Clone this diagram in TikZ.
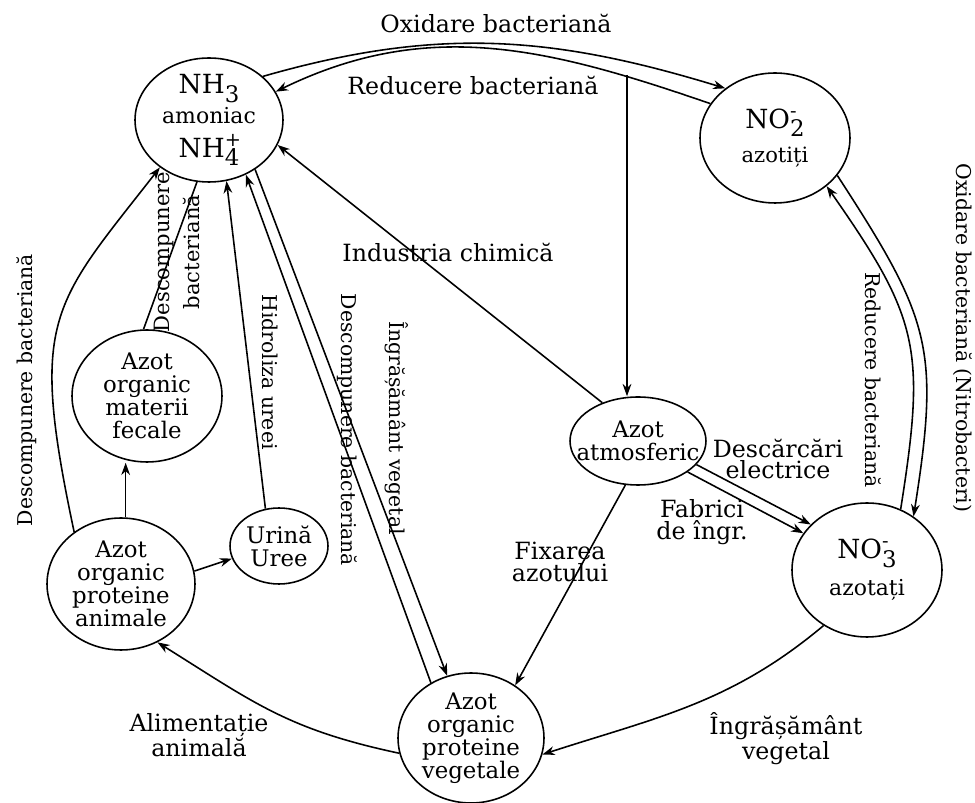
\documentclass[tikz,border=0pt]{standalone}
\usepackage{fontspec}
\setmainfont{DejaVu Serif}
\usepackage{tikz}
\usetikzlibrary{shapes.geometric,arrows.meta}
\newcommand{\formula}[3]{#1\rlap{\raisebox{0.8ex}{\fontsize{11}{11}\selectfont#3}}\raisebox{-0.6ex}{\fontsize{13}{13}\selectfont#2}}

\begin{document}
\begin{tikzpicture}[x=0.02cm,y=-0.02cm,line width=0.9pt,
  >={Stealth[length=7pt,width=5pt]},
  pool/.style 2 args={ellipse,draw,inner sep=-12pt,align=center,
                      minimum width=#1,minimum height=#2,
                      font=\fontsize{13}{13}\selectfont},
  lbl/.style={align=center,inner sep=1pt,font=\fontsize{13.5}{12.5}\selectfont},
  vlbl/.style={inner sep=1pt,font=\fontsize{11.6}{14}\selectfont},
]
\useasboundingbox (0,0) rectangle (975,803);

\node[pool={2.96cm}{2.48cm},font=\fontsize{15}{19}\selectfont] (nh) at (209,120)
  {\formula{NH}{3}{}\\[-2pt]{\fontsize{12.5}{12.5}\selectfont amoniac}\\\formula{NH}{4}{+}};
\node[pool={3.0cm}{2.6cm},font=\fontsize{15}{19}\selectfont] (no2) at (775,138)
  {\formula{NO}{2}{-}\\{\fontsize{12}{12}\selectfont azotiți}};
\node[pool={2.72cm}{1.76cm}] (atm) at (638,441) {Azot\\atmosferic};
\node[pool={3.0cm}{2.68cm},font=\fontsize{15}{21}\selectfont] (no3) at (867,570)
  {\formula{NO}{3}{-}\\{\fontsize{12.5}{12.5}\selectfont azotați}};
\node[pool={2.92cm}{2.6cm}] (veg) at (471,738) {Azot\\organic\\proteine\\vegetale};
\node[pool={2.96cm}{2.64cm}] (anim) at (121,584) {Azot\\organic\\proteine\\animale};
\node[pool={3.0cm}{2.64cm}] (fec) at (147,396) {Azot\\organic\\materii\\fecale};
\node[pool={1.96cm}{1.52cm}] (ur) at (279,546) {Urină\\Uree};

\draw[->] (nh.39) to[out=16,in=163] (no2.135);
\draw[->] (no2.152) to[out=161,in=26] (nh.23);
\coordinate (drop) at (627,75);
\draw[->] (drop) -- (drop |- atm.north);
\draw[->] (atm.133) -- (nh.-20);
\draw[->] (no2.-31) to[out=-57,in=81,looseness=1.25] (no3.49);
\draw[->] (no3.61) to[out=81,in=-55,looseness=1.25] (no2.-43);
\draw[->] (atm.-22) -- (no3.141);
\draw[->] (atm.-32) -- (no3.150);
\draw[->] (atm.-106) -- (veg.50);
\draw[->] (no3.-128) to[out=-140,in=18] (veg.-13);
\draw[->] (veg.192) to[out=168,in=-32,looseness=1.1] (anim.-58);
\draw[->] (anim.132) to[out=102,in=-128,out looseness=1.5,in looseness=1.2] (nh.-136);
\draw (fec.93) -- (nh.-101);
\draw[->] (anim.86) -- (anim.86 |- fec.south);
\draw[->] (anim.10) -- (ur.195);
\draw[->] (ur.110) -- (nh.-74);
\draw[->] (veg.126) -- (nh.-56);
\draw[->] (nh.-47) -- (veg.111);

\node[lbl] (oxtop) at (496,24) {Oxidare bacteriană};
\node[lbl] (redtop) at (473,86) {Reducere bacteriană};
\node[lbl] (ind) at (448,253) {Industria chimică};
\node[vlbl,rotate=-90] (oxright) at (963,338) {Oxidare bacteriană (Nitrobacteri)};
\node[vlbl,rotate=-90] (redright) at (873,380) {Reducere bacteriană};
\node[lbl] (desc) at (778,459) {Descărcări\\electrice};
\node[lbl] (fab) at (702,522) {Fabrici\\de îngr.};
\node[lbl] (fix) at (560,562) {Fixarea\\azotului};
\node[lbl] (ingr) at (786,739) {Îngrășământ\\vegetal};
\node[lbl] (alim) at (199,735) {Alimentație\\animală};
\node[vlbl,rotate=90] (descleft) at (27,390) {Descompunere bacteriană};
\node[vlbl,rotate=90,align=center,font=\fontsize{12}{17}\selectfont] (descfec) at (177,252)
  {Descompunere\\bacteriană};
\node[vlbl,rotate=-90] (hidro) at (270,372) {Hidroliza ureei};
\node[vlbl,rotate=-90] (descveg) at (347,430) {Descompunere bacteriană};
\node[vlbl,rotate=-90] (ingrveg) at (397,428) {Îngrășământ vegetal};
\end{tikzpicture}
\end{document}
